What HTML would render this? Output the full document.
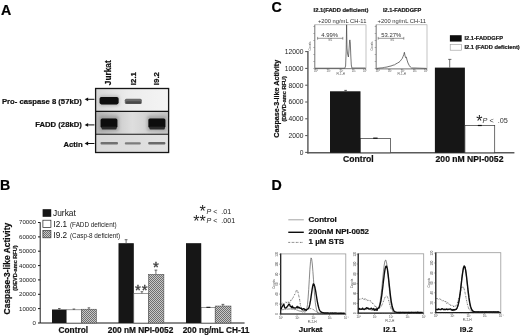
<!DOCTYPE html>
<html>
<head>
<meta charset="utf-8">
<title>Figure</title>
<style>
html,body{margin:0;padding:0;background:#fff;}
body{width:520px;height:335px;overflow:hidden;}
svg{display:block;font-family:"Liberation Sans",Arial,sans-serif;}
.b{font-weight:bold;stroke:#151515;stroke-width:0.22px;}
</style>
</head>
<body>
<svg width="520" height="335" viewBox="0 0 520 335">
<defs>
<filter id="bl1" x="-30%" y="-50%" width="160%" height="200%"><feGaussianBlur stdDeviation="1.6"/></filter>
<filter id="bl2" x="-20%" y="-50%" width="140%" height="200%"><feGaussianBlur stdDeviation="0.7"/></filter>
<filter id="soft" filterUnits="userSpaceOnUse" x="0" y="0" width="520" height="335"><feGaussianBlur stdDeviation="0.4"/></filter>
<pattern id="hatch" width="2" height="2" patternUnits="userSpaceOnUse">
<rect width="2" height="2" fill="#c8c8c8"/>
<rect width="1" height="1" fill="#6e6e6e"/>
<rect x="1" y="1" width="1" height="1" fill="#6e6e6e"/>
</pattern>
<linearGradient id="g1" x1="0" x2="1" y1="0" y2="0">
<stop offset="0" stop-color="#d6d6d6"/><stop offset="0.45" stop-color="#ececec"/><stop offset="1" stop-color="#f4f4f4"/>
</linearGradient>
<linearGradient id="g2" x1="0" x2="1" y1="0" y2="0">
<stop offset="0" stop-color="#b4b4b4"/><stop offset="0.5" stop-color="#dedede"/><stop offset="1" stop-color="#c4c4c4"/>
</linearGradient>
<linearGradient id="g3" x1="0" x2="1" y1="0" y2="0">
<stop offset="0" stop-color="#d8d8d8"/><stop offset="1" stop-color="#e2e2e2"/>
</linearGradient>
</defs>
<rect width="520" height="335" fill="#fff"/>
<g id="all" filter="url(#soft)">

<!-- ================= Panel A ================= -->
<g id="panelA">
<text class="b" x="1.1" y="14.9" font-size="14.2" fill="#000">A</text>
<g class="b" font-size="8.3" fill="#111">
<text transform="translate(110.8,85.2) rotate(-90)">Jurkat</text>
<text transform="translate(136.2,85.2) rotate(-90)" font-size="7.9">I2.1</text>
<text transform="translate(159.2,85.2) rotate(-90)" font-size="7.9">I9.2</text>
</g>
<g class="b" font-size="7.7" fill="#111" text-anchor="end">
<text x="81.8" y="104">Pro- caspase 8 (57kD)</text>
<text x="81.8" y="126.8">FADD (28kD)</text>
<text x="82.6" y="147">Actin</text>
</g>
<g stroke="#111" stroke-width="1" fill="#111">
<path d="M94.4 99.3H87"/><path d="M84.6 99.3l3.5-1.9v3.8z" stroke="none"/>
<path d="M94.4 124.9H87"/><path d="M84.6 124.9l3.5-1.9v3.8z" stroke="none"/>
<path d="M94.4 143.5H87"/><path d="M84.6 143.5l3.5-1.9v3.8z" stroke="none"/>
</g>
<!-- blot -->
<rect x="95.6" y="88.5" width="73" height="22.9" fill="url(#g1)"/>
<rect x="95.6" y="111.4" width="73" height="22.9" fill="url(#g2)"/>
<rect x="95.6" y="134.3" width="73" height="18.2" fill="url(#g3)"/>
<g filter="url(#bl1)">
<rect x="99.4" y="95.4" width="20" height="10.6" rx="3" fill="#9a9a9a" opacity="0.55"/>
<rect x="99" y="115.6" width="20" height="15.6" rx="3" fill="#8a8a8a" opacity="0.6"/>
<rect x="146.8" y="115.6" width="20" height="15.6" rx="3" fill="#8a8a8a" opacity="0.55"/>
</g>
<g filter="url(#bl2)">
<rect x="99.6" y="96.9" width="19" height="7.5" rx="1.8" fill="#0a0a0a"/>
<rect x="124.8" y="98.8" width="17" height="5.2" rx="1.5" fill="#6a6a6a"/>
<rect x="126" y="101.2" width="15" height="2.6" rx="1" fill="#4a4a4a"/>
<rect x="100.6" y="118.6" width="16.8" height="9.2" rx="1.5" fill="#080808"/>
<rect x="101.6" y="126.6" width="15" height="2.8" rx="1" fill="#2a2a2a"/>
<rect x="148.4" y="118.6" width="17" height="9.2" rx="1.5" fill="#080808"/>
<rect x="149.4" y="126.6" width="15.4" height="2.8" rx="1" fill="#2a2a2a"/>
</g>
<g filter="url(#bl2)">
<rect x="100.5" y="142.1" width="17.5" height="2.3" rx="1" fill="#707070"/>
<rect x="124.8" y="142.3" width="16" height="2.1" rx="1" fill="#7c7c7c"/>
<rect x="148.2" y="141.9" width="17.2" height="2.5" rx="1" fill="#6a6a6a"/>
</g>
<g fill="none" stroke="#141414" stroke-width="1.3">
<rect x="95.6" y="88.5" width="73" height="64"/>
<path d="M95.6 111.4H168.6M95.6 134.3H168.6" stroke-width="1.1"/>
</g>
</g>

<!-- ================= Panel B ================= -->
<g id="panelB">
<text class="b" x="-0.1" y="189.7" font-size="14.2" fill="#000">B</text>
<!-- y title -->
<text class="b" transform="translate(10,314.4) rotate(-90)" font-size="8.45" fill="#111">Caspase-3-like Activity</text>
<text class="b" transform="translate(16.6,290.7) rotate(-90)" font-size="5.6" fill="#222">(DEVD-amc RFU)</text>
<!-- legend -->
<rect x="42.6" y="209.2" width="8.6" height="7.6" fill="#151515"/>
<rect x="42.9" y="220.2" width="8" height="7.2" fill="#fff" stroke="#222" stroke-width="0.7"/>
<rect x="42.9" y="230.6" width="8" height="7.2" fill="url(#hatch)" stroke="#333" stroke-width="0.7"/>
<text x="53" y="216.2" font-size="8.4" fill="#111">Jurkat</text>
<text x="53.4" y="227.3" font-size="8.2" fill="#111">I2.1</text>
<text x="53.4" y="237.8" font-size="8.2" fill="#111">I9.2</text>
<text x="70" y="227.1" font-size="6.35" fill="#222">(FADD deficient)</text>
<text x="70" y="237.6" font-size="6.35" fill="#222">(Casp-8 deficient)</text>
<!-- y tick labels -->
<g font-size="6.1" fill="#222" text-anchor="end">
<text x="36" y="224.4">70000</text>
<text x="36" y="238.8">60000</text>
<text x="36" y="253.1">50000</text>
<text x="36" y="267.5">40000</text>
<text x="36" y="281.8">30000</text>
<text x="36" y="296.2">20000</text>
<text x="36" y="310.5">10000</text>
<text x="36" y="324.9">0</text>
</g>
<!-- axes -->
<g stroke="#1a1a1a" stroke-width="1" fill="none">
<path d="M40.2 222.3V323H244.6"/>
<path d="M38 222.5h2.2M38 236.9h2.2M38 251.2h2.2M38 265.6h2.2M38 279.9h2.2M38 294.3h2.2M38 308.6h2.2M38 323h2.2"/>
</g>
<!-- bars group 1 -->
<rect x="52" y="309.5" width="14.5" height="13.5" fill="#151515"/>
<rect x="66.5" y="309.8" width="14.8" height="13.2" fill="#fff" stroke="#555" stroke-width="0.6"/>
<rect x="81.3" y="309.2" width="15.2" height="13.8" fill="url(#hatch)" stroke="#444" stroke-width="0.5"/>
<!-- group 2 -->
<rect x="118.5" y="243.2" width="15.3" height="79.8" fill="#151515"/>
<rect x="133.8" y="293.5" width="15" height="29.5" fill="#fff" stroke="#555" stroke-width="0.6"/>
<rect x="148.5" y="274.3" width="15.4" height="48.7" fill="url(#hatch)" stroke="#444" stroke-width="0.5"/>
<!-- group 3 -->
<rect x="186" y="243.2" width="15.2" height="79.8" fill="#151515"/>
<rect x="201.2" y="307.3" width="14" height="15.7" fill="#fff" stroke="#555" stroke-width="0.6"/>
<rect x="215.2" y="306" width="15.8" height="17" fill="url(#hatch)" stroke="#444" stroke-width="0.5"/>
<!-- error bars -->
<g stroke="#333" stroke-width="0.7" fill="none">
<path d="M59.3 309.5v-1M58 308.5h2.6"/>
<path d="M73.9 309.8v-0.8M72.6 309h2.6"/>
<path d="M88.9 309.2v-1.4M87.6 307.8h2.6"/>
<path d="M126.1 243.2v-3.5M124.7 239.7h2.8"/>
<path d="M141.9 293.5v-1.8M140.6 291.7h2.6"/>
<path d="M155.9 274.3v-4.2M154.5 270.1h2.8"/>
<path d="M206.4 307.3h4" stroke-width="1" stroke="#111"/>
<path d="M222.9 306v-1.6M221.5 304.4h2.8"/>
</g>
<!-- stars -->
<g fill="#3a3a3a" stroke="#3a3a3a" stroke-width="0.35">
<text x="152.9" y="271.7" font-size="15">*</text>
<text x="134.9" y="295.3" font-size="15" letter-spacing="1.1">**</text>
</g>
<g font-size="16" fill="#222">
<text x="199.4" y="216.7">*</text>
<text x="193.2" y="226.7">**</text>
</g>
<g font-size="7.1" fill="#222">
<text x="206.5" y="214"><tspan font-style="italic">P</tspan> &lt;&#160; .01</text>
<text x="206.5" y="223.4"><tspan font-style="italic">P</tspan> &lt;&#160; .001</text>
</g>
<!-- x labels -->
<g class="b" font-size="8.3" fill="#111" text-anchor="middle">
<text x="73.3" y="332.6">Control</text>
<text x="140.6" y="332.6">200 nM NPI-0052</text>
<text x="216.1" y="332.6">200 ng/mL CH-11</text>
</g>
</g>

<!-- ================= Panel C ================= -->
<g id="panelC">
<text class="b" x="271.5" y="12.4" font-size="14.2" fill="#000">C</text>
<!-- y title -->
<text class="b" transform="translate(278.5,137.8) rotate(-90)" font-size="7.2" fill="#111">Caspase-3-like Activity</text>
<text class="b" transform="translate(286,121.6) rotate(-90)" font-size="5.6" fill="#222">(DEVD-amc RFU)</text>
<!-- inset titles -->
<g class="b" fill="#222">
<text x="313.6" y="12.2" font-size="5.8">I2.1(FADD deficient)</text>
<text x="383" y="12.2" font-size="5.65">I2.1-FADDGFP</text>
</g>
<g font-size="5.8" fill="#333">
<text x="317.9" y="22.6">+200 ng/mL CH-11</text>
<text x="377.6" y="22.6">+200 ng/mL CH-11</text>
</g>
<!-- inset 1 -->
<g fill="none">
<rect x="314.7" y="24.8" width="51.3" height="43.9" stroke="#9a9a9a" stroke-width="0.6"/>
<path d="M314.9 24.8V68.7H366" stroke="#6a6a6a" stroke-width="0.7"/>
<path d="M313.3 26.5h1.4M313.3 33.5h1.4M313.3 40.5h1.4M313.3 47.5h1.4M313.3 54.5h1.4M313.3 61.5h1.4M313.3 68.5h1.4" stroke="#666" stroke-width="0.5"/>
<path d="M315.5 68.7v1.4M328 68.7v1.4M340.6 68.7v1.4M353.2 68.7v1.4M365.4 68.7v1.4" stroke="#666" stroke-width="0.5"/>
<path d="M317.6 38.3H342.8M317.6 36.9v2.8M342.8 36.9v2.8" stroke="#555" stroke-width="0.6"/>
<path d="M315 68.2H344.8L345.6 66 346.2 50 346.6 24.8 347 48 347.6 54 348.4 57 349 50 349.6 41 349.9 39.9 350.3 43 350.8 56 351.3 65 351.9 68H365.6" stroke="#4a4a4a" stroke-width="0.75"/>
</g>
<text x="321.3" y="36.7" font-size="5.9" fill="#333">4.99%</text>
<text x="328.6" y="41.4" font-size="2.6" fill="#555">M1</text>
<text x="336.5" y="74.8" font-size="3" fill="#555">FL1-H</text>
<g font-size="2.8" fill="#555"><text x="314" y="72.4">10⁰</text><text x="326.6" y="72.4">10¹</text><text x="339.2" y="72.4">10²</text><text x="351.8" y="72.4">10³</text><text x="363" y="72.4">10⁴</text></g>
<text transform="translate(311.4,46) rotate(-90)" font-size="2.8" fill="#555" text-anchor="middle">Counts</text>
<!-- inset 2 -->
<g fill="none">
<rect x="376.1" y="24.8" width="50.9" height="44.1" stroke="#9a9a9a" stroke-width="0.6"/>
<path d="M376.2 24.8V68.9H427" stroke="#6a6a6a" stroke-width="0.7"/>
<path d="M374.7 26.5h1.4M374.7 33.5h1.4M374.7 40.5h1.4M374.7 47.5h1.4M374.7 54.5h1.4M374.7 61.5h1.4M374.7 68.5h1.4" stroke="#666" stroke-width="0.5"/>
<path d="M377 68.9v1.4M389.4 68.9v1.4M401.8 68.9v1.4M414.2 68.9v1.4M426.4 68.9v1.4" stroke="#666" stroke-width="0.5"/>
<path d="M378.2 38.3H403.8M378.2 36.9v2.8M403.8 36.9v2.8" stroke="#555" stroke-width="0.6"/>
<path d="M376.6 68.4L380 68 383 67.8 384.4 67.4 387 67 389 66.4 391 66 393 65.2 394.6 64.8 396 63.8 397.6 63 399 62.2 400 61.4 401.2 59.8 402.2 58.6 403 56.6 403.8 54.6 404.4 52.3 404.9 55 405.5 57.6 406.3 57 407 60 408 63 409.2 65.4 410.4 67 411.6 68H415 L426.6 68.4" stroke="#444" stroke-width="0.75"/>
</g>
<text x="381.3" y="36.7" font-size="5.9" fill="#333">53.27%</text>
<text x="390.6" y="41.4" font-size="2.6" fill="#555">M1</text>
<text x="397.5" y="74.8" font-size="3" fill="#555">FL1-H</text>
<g font-size="2.8" fill="#555"><text x="375.4" y="72.4">10⁰</text><text x="388" y="72.4">10¹</text><text x="400.4" y="72.4">10²</text><text x="412.8" y="72.4">10³</text><text x="424" y="72.4">10⁴</text></g>
<text transform="translate(372.8,46) rotate(-90)" font-size="2.8" fill="#555" text-anchor="middle">Counts</text>
<!-- legend -->
<rect x="449.9" y="35.2" width="11.8" height="6.4" fill="#111"/>
<rect x="450.2" y="44.4" width="11.2" height="5.8" fill="#fff" stroke="#999" stroke-width="0.6"/>
<g class="b" font-size="5.7" fill="#222">
<text x="464.4" y="40.2">I2.1-FADDGFP</text>
<text x="464.4" y="49.2">I2.1 (FADD deficient)</text>
</g>
<!-- y tick labels -->
<g font-size="6.7" fill="#222" text-anchor="end">
<text x="303.4" y="54">12000</text>
<text x="303.4" y="70.8">10000</text>
<text x="303.4" y="87.6">8000</text>
<text x="303.4" y="104.4">6000</text>
<text x="303.4" y="121.2">4000</text>
<text x="303.4" y="138">2000</text>
<text x="303.4" y="154.8">0</text>
</g>
<!-- axes -->
<g fill="none">
<path d="M307.9 51V153.4" stroke="#606060" stroke-width="1.5"/>
<path d="M307.2 152.8H514.4" stroke="#5a5a5a" stroke-width="1.4"/>
<path d="M305.2 51.6h2.2M305.2 68.4h2.2M305.2 85.2h2.2M305.2 102h2.2M305.2 118.8h2.2M305.2 135.6h2.2M305.2 152.4h2.2" stroke="#222" stroke-width="0.8"/>
</g>
<!-- bars -->
<rect x="330" y="91.3" width="30.5" height="61.5" fill="#151515"/>
<rect x="360.5" y="138.4" width="30.1" height="14.4" fill="#fff" stroke="#333" stroke-width="0.7"/>
<rect x="434.9" y="67.6" width="30" height="85.2" fill="#151515"/>
<rect x="464.9" y="125.6" width="29.8" height="27.2" fill="#fff" stroke="#333" stroke-width="0.7"/>
<g stroke="#333" stroke-width="0.7" fill="none">
<path d="M345.6 91.3v-1M344.2 90.4h2.8"/>
<path d="M373.2 138.2h4.4" stroke-width="1.2" stroke="#111"/>
<path d="M449.7 67.6v-8.2M448.2 59.4h3.2"/>
<path d="M477.8 125.5h4" stroke-width="1.2" stroke="#111"/>
</g>
<text x="476.3" y="126.8" font-size="16" fill="#222">*</text>
<text x="482.6" y="122.5" font-size="7.25" fill="#333"><tspan font-style="italic">P</tspan> &lt;&#160; .05</text>
<g class="b" font-size="8.6" fill="#111" text-anchor="middle">
<text x="358.4" y="162">Control</text>
<text x="469.5" y="162">200 nM NPI-0052</text>
</g>
</g>

<!--PANELD_START-->
<!-- ================= Panel D ================= -->
<g id="panelD">
<text class="b" x="271.5" y="189.7" font-size="14.2" fill="#000">D</text>
<path d="M288.3 219.8H303.8" stroke="#666" stroke-width="0.6" fill="none"/>
<path d="M288.3 232.3H303.8" stroke="#0a0a0a" stroke-width="1.4" fill="none"/>
<path d="M288.3 242.4H303.8" stroke="#444" stroke-width="0.7" stroke-dasharray="1.6 0.9 0.5 0.9" fill="none"/>
<g class="b" font-size="7.95" fill="#111">
<text x="308.6" y="221.8">Control</text>
<text x="308.6" y="233.6">200nM NPI-0052</text>
<text x="308.6" y="243.5">1 µM STS</text>
</g>
<!-- hist 1 -->
<rect x="280.7" y="253.9" width="65.1" height="60.1" fill="none" stroke="#9a9a9a" stroke-width="0.8"/>
<path d="M280.7 253.6V314H345.8" fill="none" stroke="#1a1a1a" stroke-width="1.2"/>
<path d="M279.1 314.0h1.6 M279.1 304.1h1.6 M279.1 294.1h1.6 M279.1 284.1h1.6 M279.1 274.2h1.6 M279.1 264.2h1.6 M279.1 254.3h1.6 M280.7 314v1.6 M297.0 314v1.6 M313.2 314v1.6 M329.5 314v1.6 M345.8 314v1.6" fill="none" stroke="#444" stroke-width="0.5"/>
<path d="M285.6 314v0.9 M288.5 314v0.9 M290.5 314v0.9 M292.1 314v0.9 M293.4 314v0.9 M294.5 314v0.9 M295.4 314v0.9 M296.2 314v0.9 M301.9 314v0.9 M304.7 314v0.9 M306.8 314v0.9 M308.4 314v0.9 M309.6 314v0.9 M310.7 314v0.9 M311.7 314v0.9 M312.5 314v0.9 M318.1 314v0.9 M321.0 314v0.9 M323.0 314v0.9 M324.6 314v0.9 M325.9 314v0.9 M327.0 314v0.9 M327.9 314v0.9 M328.8 314v0.9 M334.4 314v0.9 M337.3 314v0.9 M339.3 314v0.9 M340.9 314v0.9 M342.2 314v0.9 M343.3 314v0.9 M344.2 314v0.9 M345.1 314v0.9" fill="none" stroke="#777" stroke-width="0.3"/>
<g font-size="2.9" fill="#4a4a4a"><text x="278.9" y="318.6">10⁰</text><text x="295.2" y="318.6">10¹</text><text x="311.4" y="318.6">10²</text><text x="327.7" y="318.6">10³</text><text x="344.0" y="318.6">10⁴</text><text transform="translate(278.3,314.0) rotate(-90)" text-anchor="middle">0</text><text transform="translate(278.3,304.1) rotate(-90)" text-anchor="middle">20</text><text transform="translate(278.3,294.1) rotate(-90)" text-anchor="middle">40</text><text transform="translate(278.3,284.1) rotate(-90)" text-anchor="middle">60</text><text transform="translate(278.3,274.2) rotate(-90)" text-anchor="middle">80</text><text transform="translate(278.3,264.2) rotate(-90)" text-anchor="middle">100</text><text transform="translate(278.3,254.3) rotate(-90)" text-anchor="middle">120</text></g>
<text x="312.1" y="322.6" font-size="3.2" fill="#4a4a4a" text-anchor="middle">FL2-H</text>
<text transform="translate(275.3,283.9) rotate(-90)" font-size="3" fill="#4a4a4a" text-anchor="middle">Counts</text>
<path d="M281.1 304.8 281.9 303.1 282.7 302.9 283.5 304.2 284.3 303.0 285.1 303.0 285.9 301.8 286.7 302.8 287.5 303.3 288.3 301.8 289.1 303.0 289.9 302.5 290.7 300.3 291.5 300.5 292.3 298.7 293.1 297.7 293.9 295.2 294.7 294.5 295.5 293.2 296.3 290.5 297.1 290.0 297.9 291.8 298.7 295.5 299.5 298.8 300.3 304.3 301.1 308.2 301.9 309.6 302.7 310.5 303.5 310.5 304.3 310.7 305.1 310.4 305.9 310.0 306.7 309.7 307.5 309.5 308.3 309.0 309.1 308.9 309.9 308.9 310.7 308.6 311.5 308.6 312.3 309.1 313.1 309.3 313.9 309.9 314.7 310.6 315.5 311.3 316.3 311.6 317.1 312.2 317.9 312.5 318.7 312.9 319.5 312.9 320.3 313.2 321.1 313.0 321.9 313.1 322.7 313.2 323.5 313.3 324.3 313.2 325.1 313.1 325.9 313.1 326.7 313.2 327.5 313.1 328.3 313.3 329.1 313.3 329.9 313.1 330.7 313.1 331.5 313.3 332.3 313.3 333.1 313.3 333.9 313.1 334.7 313.1 335.5 313.1 336.3 313.3 337.1 313.1 337.9 313.1 338.7 313.2 339.5 313.2 340.3 313.2 341.1 313.4 341.9 313.1 342.7 313.0 343.5 313.4 344.3 313.3" fill="none" stroke="#333" stroke-width="0.7" stroke-dasharray="1.6 0.9 0.5 0.9"/>
<path d="M281.1 309.8 281.7 309.9 282.3 309.7 282.9 309.7 283.5 309.6 284.1 309.2 284.7 309.0 285.3 309.4 285.9 309.0 286.5 308.9 287.1 309.3 287.7 309.0 288.3 309.1 288.9 308.9 289.5 309.0 290.1 308.7 290.7 309.0 291.3 309.2 291.9 309.0 292.5 309.2 293.1 309.3 293.7 309.0 294.3 309.5 294.9 309.6 295.5 309.5 296.1 309.5 296.7 310.2 297.3 310.1 297.9 310.5 298.5 310.7 299.1 310.8 299.7 311.1 300.3 311.0 300.9 311.4 301.5 311.4 302.1 311.8 302.7 312.0 303.3 311.6 303.9 311.8 304.5 311.9 305.1 312.3 305.7 311.5 306.3 310.6 306.9 308.2 307.5 304.4 308.1 298.1 308.7 289.5 309.3 279.4 309.9 269.2 310.5 261.5 311.1 257.9 311.7 259.3 312.3 264.0 312.9 271.4 313.5 279.8 314.1 288.1 314.7 296.1 315.3 302.3 315.9 306.7 316.5 309.5 317.1 311.4 317.7 312.2 318.3 313.1 318.9 313.2 319.5 313.2 320.1 313.1 320.7 313.6 321.3 313.7 321.9 313.1 322.5 313.6 323.1 313.3 323.7 313.2 324.3 313.3 324.9 313.6 325.5 313.6 326.1 313.1 326.7 313.5 327.3 313.1 327.9 313.5 328.5 313.3 329.1 313.6 329.7 313.7 330.3 313.4 330.9 313.7 331.5 313.3 332.1 313.1 332.7 313.5 333.3 313.1 333.9 313.2 334.5 313.3 335.1 313.5 335.7 313.2 336.3 313.1 336.9 313.6 337.5 313.3 338.1 313.7 338.7 313.6 339.3 313.3 339.9 313.4 340.5 313.4 341.1 313.5 341.7 313.5 342.3 313.4 342.9 313.5 343.5 313.7 344.1 313.4 344.7 313.4" fill="none" stroke="#484848" stroke-width="0.65"/>
<path d="M281.1 309.2 281.8 307.1 282.5 306.3 283.2 304.8 283.9 304.4 284.6 307.3 285.3 308.1 286.0 307.8 286.7 307.3 287.4 306.4 288.1 305.5 288.8 304.1 289.5 304.1 290.2 306.4 290.9 306.4 291.6 307.7 292.3 306.0 293.0 307.9 293.7 307.5 294.4 308.0 295.1 308.0 295.8 308.1 296.5 307.5 297.2 306.4 297.9 308.1 298.6 307.0 299.3 307.5 300.0 308.4 300.7 308.3 301.4 308.2 302.1 309.6 302.8 309.1 303.5 308.7 304.2 308.7 304.9 310.2 305.6 309.5 306.3 310.3 307.0 309.4 307.7 308.8 308.4 308.7 309.1 307.3 309.8 304.4 310.5 300.7 311.2 295.9 311.9 290.8 312.6 286.5 313.3 283.9 314.0 284.3 314.7 286.4 315.4 289.6 316.1 293.9 316.8 298.3 317.5 302.5 318.2 305.8 318.9 308.4 319.6 310.3 320.3 311.2 321.0 311.9 321.7 312.3 322.4 312.5 323.1 312.6 323.8 313.0 324.5 313.0 325.2 312.8 325.9 313.0 326.6 313.0 327.3 313.0 328.0 313.0 328.7 313.1 329.4 313.1 330.1 313.1 330.8 313.0 331.5 313.1 332.2 313.0 332.9 313.2 333.6 313.2 334.3 313.1 335.0 313.0 335.7 313.1 336.4 313.1 337.1 313.2 337.8 313.3 338.5 313.2 339.2 313.3 339.9 313.2 340.6 313.2 341.3 313.2 342.0 313.2 342.7 313.3 343.4 313.2 344.1 313.3 344.8 313.2" fill="none" stroke="#0a0a0a" stroke-width="1.35" stroke-linejoin="round"/>
<!-- hist 2 -->
<rect x="358.2" y="253.8" width="65.5" height="59.4" fill="none" stroke="#9a9a9a" stroke-width="0.8"/>
<path d="M358.2 253.5V313.2H423.7" fill="none" stroke="#1a1a1a" stroke-width="1.2"/>
<path d="M356.6 313.2h1.6 M356.6 303.4h1.6 M356.6 293.5h1.6 M356.6 283.7h1.6 M356.6 273.9h1.6 M356.6 264.0h1.6 M356.6 254.2h1.6 M358.2 313.2v1.6 M374.6 313.2v1.6 M390.9 313.2v1.6 M407.3 313.2v1.6 M423.7 313.2v1.6" fill="none" stroke="#444" stroke-width="0.5"/>
<path d="M363.1 313.2v0.9 M366.0 313.2v0.9 M368.1 313.2v0.9 M369.6 313.2v0.9 M370.9 313.2v0.9 M372.0 313.2v0.9 M373.0 313.2v0.9 M373.8 313.2v0.9 M379.5 313.2v0.9 M382.4 313.2v0.9 M384.4 313.2v0.9 M386.0 313.2v0.9 M387.3 313.2v0.9 M388.4 313.2v0.9 M389.4 313.2v0.9 M390.2 313.2v0.9 M395.9 313.2v0.9 M398.8 313.2v0.9 M400.8 313.2v0.9 M402.4 313.2v0.9 M403.7 313.2v0.9 M404.8 313.2v0.9 M405.7 313.2v0.9 M406.6 313.2v0.9 M412.3 313.2v0.9 M415.1 313.2v0.9 M417.2 313.2v0.9 M418.8 313.2v0.9 M420.1 313.2v0.9 M421.2 313.2v0.9 M422.1 313.2v0.9 M423.0 313.2v0.9" fill="none" stroke="#777" stroke-width="0.3"/>
<g font-size="2.9" fill="#4a4a4a"><text x="356.4" y="317.8">10⁰</text><text x="372.8" y="317.8">10¹</text><text x="389.1" y="317.8">10²</text><text x="405.5" y="317.8">10³</text><text x="421.9" y="317.8">10⁴</text><text transform="translate(355.8,313.2) rotate(-90)" text-anchor="middle">0</text><text transform="translate(355.8,303.4) rotate(-90)" text-anchor="middle">20</text><text transform="translate(355.8,293.5) rotate(-90)" text-anchor="middle">40</text><text transform="translate(355.8,283.7) rotate(-90)" text-anchor="middle">60</text><text transform="translate(355.8,273.9) rotate(-90)" text-anchor="middle">80</text><text transform="translate(355.8,264.0) rotate(-90)" text-anchor="middle">100</text><text transform="translate(355.8,254.2) rotate(-90)" text-anchor="middle">120</text></g>
<text x="389.8" y="321.8" font-size="3.2" fill="#4a4a4a" text-anchor="middle">FL2-H</text>
<text transform="translate(352.8,283.5) rotate(-90)" font-size="3" fill="#4a4a4a" text-anchor="middle">Counts</text>
<path d="M358.6 299.4 359.4 299.3 360.2 298.8 361.0 299.5 361.8 298.6 362.6 298.3 363.4 299.4 364.2 300.1 365.0 298.5 365.8 299.7 366.6 299.2 367.4 300.7 368.2 300.5 369.0 300.2 369.8 300.7 370.6 300.8 371.4 302.7 372.2 303.2 373.0 303.4 373.8 304.6 374.6 305.2 375.4 307.0 376.2 306.0 377.0 308.7 377.8 307.8 378.6 308.1 379.4 308.0 380.2 307.7 381.0 306.8 381.8 305.3 382.6 303.5 383.4 301.5 384.2 299.4 385.0 297.4 385.8 296.3 386.6 296.0 387.4 296.7 388.2 298.7 389.0 301.6 389.8 304.8 390.6 307.4 391.4 309.5 392.2 310.9 393.0 311.5 393.8 311.9 394.6 312.1 395.4 312.2 396.2 312.4 397.0 312.5 397.8 312.5 398.6 312.3 399.4 312.5 400.2 312.3 401.0 312.4 401.8 312.5 402.6 312.2 403.4 312.2 404.2 312.5 405.0 312.3 405.8 312.3 406.6 312.4 407.4 312.5 408.2 312.2 409.0 312.3 409.8 312.4 410.6 312.4 411.4 312.3 412.2 312.4 413.0 312.6 413.8 312.4 414.6 312.4 415.4 312.3 416.2 312.3 417.0 312.5 417.8 312.2 418.6 312.6 419.4 312.6 420.2 312.2 421.0 312.6 421.8 312.4 422.6 312.5" fill="none" stroke="#333" stroke-width="0.7" stroke-dasharray="1.6 0.9 0.5 0.9"/>
<path d="M358.6 309.5 359.4 309.6 360.2 309.7 361.0 309.0 361.8 309.2 362.6 309.2 363.4 309.6 364.2 309.6 365.0 309.0 365.8 309.5 366.6 309.4 367.4 308.9 368.2 309.2 369.0 308.9 369.8 309.7 370.6 309.7 371.4 310.1 372.2 310.1 373.0 310.2 373.8 310.4 374.6 310.4 375.4 310.0 376.2 310.5 377.0 309.6 377.8 309.0 378.6 307.9 379.4 305.2 380.2 301.1 381.0 295.5 381.8 288.4 382.6 280.1 383.4 271.9 384.2 265.1 385.0 260.7 385.8 260.0 386.6 262.9 387.4 269.1 388.2 277.4 389.0 286.1 389.8 294.1 390.6 300.6 391.4 305.5 392.2 308.6 393.0 310.6 393.8 311.5 394.6 312.2 395.4 312.5 396.2 312.5 397.0 312.5 397.8 312.6 398.6 312.6 399.4 312.6 400.2 312.5 401.0 312.6 401.8 312.6 402.6 312.6 403.4 312.6 404.2 312.6 405.0 312.6 405.8 312.6 406.6 312.6 407.4 312.5 408.2 312.6 409.0 312.7 409.8 312.6 410.6 312.6 411.4 312.5 412.2 312.6 413.0 312.6 413.8 312.6 414.6 312.6 415.4 312.6 416.2 312.6 417.0 312.7 417.8 312.5 418.6 312.5 419.4 312.6 420.2 312.7 421.0 312.6 421.8 312.6 422.6 312.6" fill="none" stroke="#484848" stroke-width="0.65"/>
<path d="M358.6 309.6 359.4 308.5 360.2 309.2 361.0 309.1 361.8 309.3 362.6 308.1 363.4 309.1 364.2 309.5 365.0 308.8 365.8 308.5 366.6 307.6 367.4 308.4 368.2 308.1 369.0 309.0 369.8 308.9 370.6 308.8 371.4 308.1 372.2 309.2 373.0 309.3 373.8 308.5 374.6 310.2 375.4 309.8 376.2 308.7 377.0 310.4 377.8 308.3 378.6 308.2 379.4 306.8 380.2 304.1 381.0 300.3 381.8 295.1 382.6 288.6 383.4 281.6 384.2 274.8 385.0 269.3 385.8 266.4 386.6 266.1 387.4 269.1 388.2 274.9 389.0 282.2 389.8 289.8 390.6 296.8 391.4 302.5 392.2 306.3 393.0 309.1 393.8 310.6 394.6 311.6 395.4 311.9 396.2 312.2 397.0 312.3 397.8 312.4 398.6 312.5 399.4 312.3 400.2 312.5 401.0 312.3 401.8 312.3 402.6 312.3 403.4 312.3 404.2 312.5 405.0 312.5 405.8 312.3 406.6 312.3 407.4 312.4 408.2 312.5 409.0 312.5 409.8 312.5 410.6 312.4 411.4 312.3 412.2 312.4 413.0 312.3 413.8 312.4 414.6 312.4 415.4 312.3 416.2 312.3 417.0 312.5 417.8 312.2 418.6 312.5 419.4 312.5 420.2 312.5 421.0 312.4 421.8 312.4 422.6 312.4" fill="none" stroke="#0a0a0a" stroke-width="1.35" stroke-linejoin="round"/>
<!-- hist 3 -->
<rect x="435.8" y="252.7" width="65.0" height="60.0" fill="none" stroke="#9a9a9a" stroke-width="0.8"/>
<path d="M435.8 252.39999999999998V312.7H500.8" fill="none" stroke="#1a1a1a" stroke-width="1.2"/>
<path d="M434.2 312.7h1.6 M434.2 302.8h1.6 M434.2 292.8h1.6 M434.2 282.9h1.6 M434.2 273.0h1.6 M434.2 263.0h1.6 M434.2 253.1h1.6 M435.8 312.7v1.6 M452.1 312.7v1.6 M468.3 312.7v1.6 M484.6 312.7v1.6 M500.8 312.7v1.6" fill="none" stroke="#444" stroke-width="0.5"/>
<path d="M440.7 312.7v0.9 M443.6 312.7v0.9 M445.6 312.7v0.9 M447.2 312.7v0.9 M448.4 312.7v0.9 M449.5 312.7v0.9 M450.5 312.7v0.9 M451.3 312.7v0.9 M456.9 312.7v0.9 M459.8 312.7v0.9 M461.8 312.7v0.9 M463.4 312.7v0.9 M464.7 312.7v0.9 M465.8 312.7v0.9 M466.7 312.7v0.9 M467.6 312.7v0.9 M473.2 312.7v0.9 M476.1 312.7v0.9 M478.1 312.7v0.9 M479.7 312.7v0.9 M480.9 312.7v0.9 M482.0 312.7v0.9 M483.0 312.7v0.9 M483.8 312.7v0.9 M489.4 312.7v0.9 M492.3 312.7v0.9 M494.3 312.7v0.9 M495.9 312.7v0.9 M497.2 312.7v0.9 M498.3 312.7v0.9 M499.2 312.7v0.9 M500.1 312.7v0.9" fill="none" stroke="#777" stroke-width="0.3"/>
<g font-size="2.9" fill="#4a4a4a"><text x="434.0" y="317.3">10⁰</text><text x="450.2" y="317.3">10¹</text><text x="466.5" y="317.3">10²</text><text x="482.8" y="317.3">10³</text><text x="499.0" y="317.3">10⁴</text><text transform="translate(433.4,312.7) rotate(-90)" text-anchor="middle">0</text><text transform="translate(433.4,302.8) rotate(-90)" text-anchor="middle">20</text><text transform="translate(433.4,292.8) rotate(-90)" text-anchor="middle">40</text><text transform="translate(433.4,282.9) rotate(-90)" text-anchor="middle">60</text><text transform="translate(433.4,273.0) rotate(-90)" text-anchor="middle">80</text><text transform="translate(433.4,263.0) rotate(-90)" text-anchor="middle">100</text><text transform="translate(433.4,253.1) rotate(-90)" text-anchor="middle">120</text></g>
<text x="467.1" y="321.3" font-size="3.2" fill="#4a4a4a" text-anchor="middle">FL2-H</text>
<text transform="translate(430.4,282.7) rotate(-90)" font-size="3" fill="#4a4a4a" text-anchor="middle">Counts</text>
<path d="M436.2 298.5 437.0 298.6 437.8 298.8 438.6 299.5 439.4 298.8 440.2 298.9 441.0 300.0 441.8 300.2 442.6 301.1 443.4 300.2 444.2 301.3 445.0 301.7 445.8 301.4 446.6 303.8 447.4 302.8 448.2 303.0 449.0 304.3 449.8 304.1 450.6 305.5 451.4 305.4 452.2 305.4 453.0 305.5 453.8 307.0 454.6 306.1 455.4 306.6 456.2 305.2 457.0 303.9 457.8 301.6 458.6 299.0 459.4 295.9 460.2 293.0 461.0 290.1 461.8 287.8 462.6 286.7 463.4 287.1 464.2 289.2 465.0 292.5 465.8 296.5 466.6 300.7 467.4 304.3 468.2 307.1 469.0 309.0 469.8 310.2 470.6 311.1 471.4 311.5 472.2 311.5 473.0 311.9 473.8 311.8 474.6 311.9 475.4 311.9 476.2 312.0 477.0 311.7 477.8 311.8 478.6 311.9 479.4 312.0 480.2 311.8 481.0 311.8 481.8 312.0 482.6 311.8 483.4 311.9 484.2 311.8 485.0 311.9 485.8 312.0 486.6 311.8 487.4 312.0 488.2 312.0 489.0 312.0 489.8 311.9 490.6 312.0 491.4 311.9 492.2 311.9 493.0 311.8 493.8 312.0 494.6 311.9 495.4 311.8 496.2 311.8 497.0 312.0 497.8 311.9 498.6 312.0 499.4 311.9" fill="none" stroke="#333" stroke-width="0.7" stroke-dasharray="1.6 0.9 0.5 0.9"/>
<path d="M436.2 309.8 437.0 310.0 437.8 309.6 438.6 309.2 439.4 309.6 440.2 309.2 441.0 309.3 441.8 309.3 442.6 308.7 443.4 309.3 444.2 309.2 445.0 309.1 445.8 309.2 446.6 309.2 447.4 309.1 448.2 309.4 449.0 309.2 449.8 309.7 450.6 309.9 451.4 309.9 452.2 310.2 453.0 310.6 453.8 310.6 454.6 310.0 455.4 310.4 456.2 309.6 457.0 308.4 457.8 306.4 458.6 303.1 459.4 298.4 460.2 292.4 461.0 285.3 461.8 277.9 462.6 271.5 463.4 267.0 464.2 265.3 465.0 267.2 465.8 272.0 466.6 279.0 467.4 286.7 468.2 294.1 469.0 300.2 469.8 304.9 470.6 308.0 471.4 310.0 472.2 311.0 473.0 311.6 473.8 311.9 474.6 312.0 475.4 312.0 476.2 312.0 477.0 312.1 477.8 312.1 478.6 312.1 479.4 312.1 480.2 312.1 481.0 312.1 481.8 312.1 482.6 312.1 483.4 312.1 484.2 312.1 485.0 312.1 485.8 312.1 486.6 312.1 487.4 312.1 488.2 312.1 489.0 312.1 489.8 312.1 490.6 312.1 491.4 312.1 492.2 312.0 493.0 312.1 493.8 312.1 494.6 312.1 495.4 312.1 496.2 312.1 497.0 312.1 497.8 312.1 498.6 312.1 499.4 312.1" fill="none" stroke="#484848" stroke-width="0.65"/>
<path d="M436.2 309.7 437.0 309.2 437.8 309.8 438.6 308.9 439.4 309.4 440.2 309.6 441.0 309.5 441.8 308.7 442.6 308.9 443.4 309.6 444.2 309.3 445.0 309.6 445.8 309.5 446.6 309.0 447.4 309.6 448.2 309.5 449.0 309.1 449.8 309.2 450.6 309.0 451.4 309.5 452.2 310.4 453.0 309.5 453.8 310.1 454.6 309.6 455.4 309.3 456.2 309.3 457.0 308.1 457.8 306.1 458.6 303.1 459.4 298.8 460.2 293.1 461.0 286.3 461.8 279.4 462.6 273.1 463.4 268.3 464.2 266.2 465.0 267.0 465.8 270.9 466.6 277.0 467.4 284.2 468.2 291.4 469.0 297.7 469.8 302.8 470.6 306.4 471.4 308.9 472.2 310.3 473.0 311.1 473.8 311.6 474.6 311.7 475.4 311.9 476.2 311.8 477.0 311.9 477.8 311.8 478.6 312.0 479.4 311.9 480.2 311.9 481.0 311.9 481.8 312.0 482.6 311.9 483.4 311.9 484.2 311.9 485.0 311.8 485.8 312.0 486.6 311.9 487.4 312.0 488.2 311.8 489.0 311.9 489.8 311.9 490.6 311.9 491.4 311.8 492.2 311.9 493.0 311.9 493.8 311.8 494.6 311.9 495.4 311.9 496.2 311.9 497.0 311.9 497.8 311.9 498.6 311.8 499.4 311.9" fill="none" stroke="#0a0a0a" stroke-width="1.35" stroke-linejoin="round"/>
<g class="b" font-size="7.9" fill="#111" text-anchor="middle">
<text x="310.6" y="332.4">Jurkat</text>
<text x="389.8" y="332.4">I2.1</text>
<text x="466.4" y="332.4">I9.2</text>
</g>
</g>

<!--PANELD_END-->
</g>
</svg>
</body>
</html>
